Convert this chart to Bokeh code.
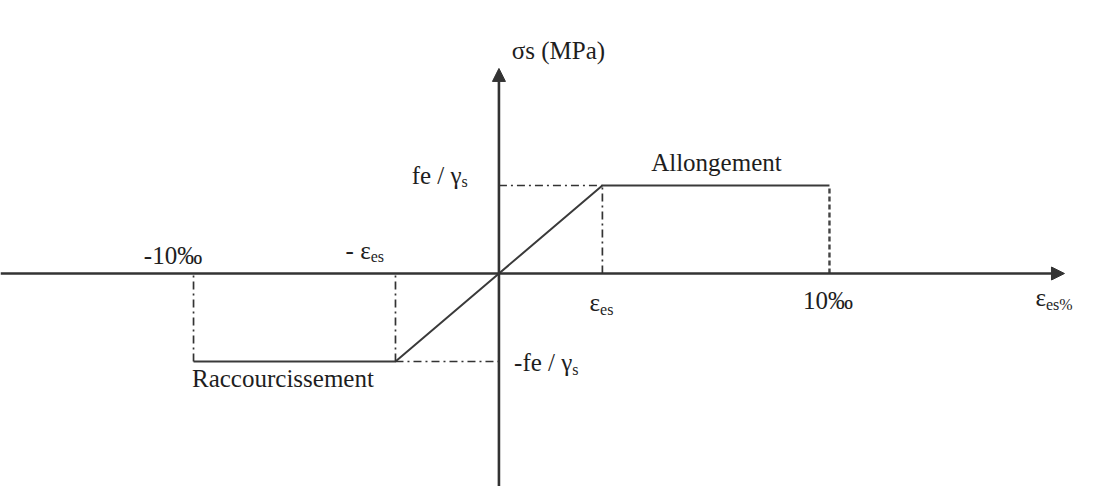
from bokeh.plotting import figure
from bokeh.models import Arrow, NormalHead, ColumnDataSource, Range1d
from bokeh.core.properties import value
from bokeh.embed import file_html
from bokeh.resources import INLINE

# ---- data (strain in ‰, stress normalised by fe/γs) ----
strain = [-9.24, -3.13, 0.0, 3.13, 10.0]
stress = [-1.0, -1.0, 0.0, 1.0, 1.0]

# main labels: text, x, y
lab_text = ["σs (MPa)", "Allongement", "-10‰", "10‰", "Raccourcissement"]
lab_x = [1.80, 6.58, -9.86, 9.955, -6.535]
lab_y = [2.534, 1.261, 0.205, -0.307, -1.193]

# labels with subscripts: main (right-aligned at x), subscript (left-aligned at x)
sub_main = ["fe / γ", "- ε", "ε", "ε", "-fe / γ"]
sub_small = ["s", "es", "es", "es%", "s"]
sub_x = [-1.13, -3.88, 3.06, 16.55, 2.22]
sub_y_main = [1.114, 0.261, -0.33, -0.273, -1.012]
sub_y_small = [1.040, 0.188, -0.405, -0.347, -1.085]

X0, X1 = -15.08, 17.625
Y0, Y1 = -2.42, 3.102

p = figure(width=1081, height=486, output_backend="svg", toolbar_location=None,
           x_range=Range1d(X0, X1), y_range=Range1d(Y0, Y1), min_border=0)
p.axis.visible = False
p.grid.visible = False
p.outline_line_color = None
p.background_fill_color = "white"
p.border_fill_color = "white"

AX = "#333333"
# axes with arrows
p.add_layout(Arrow(end=NormalHead(size=13, fill_color=AX, line_color=AX),
                   x_start=X0, y_start=0, x_end=17.11, y_end=0,
                   line_color=AX, line_width=2.6))
p.add_layout(Arrow(end=NormalHead(size=13, fill_color=AX, line_color=AX),
                   x_start=0, y_start=Y0, x_end=0, y_end=2.33,
                   line_color=AX, line_width=2.6))

# stress-strain curve
p.line(strain, stress, line_color="#3a3a3a", line_width=2)

# guide lines (dash-dot)
dd = "8 4 2 4"
p.segment(x0=[strain[2], strain[1], strain[3], strain[1], strain[0]],
          y0=[stress[3], stress[1], 0, stress[1], stress[0]],
          x1=[strain[3], strain[2], strain[3], strain[1], strain[0]],
          y1=[stress[3], stress[1], stress[3], 0, 0],
          line_color="#333333", line_width=1.7, line_dash=dd)
# dashed at 10‰
p.segment(x0=[strain[4]], y0=[0], x1=[strain[4]], y1=[stress[4]],
          line_color="#444444", line_width=2.4, line_dash="5 3")

FONT = value("Liberation Serif")
src = ColumnDataSource(dict(x=lab_x, y=lab_y, t=lab_text))
p.text(x="x", y="y", text="t", source=src, text_font=FONT, text_font_size="25px",
       text_align="center", text_baseline="middle", text_color="#1e1e1e")

src_m = ColumnDataSource(dict(x=sub_x, y=sub_y_main, t=sub_main))
p.text(x="x", y="y", text="t", source=src_m, text_font=FONT, text_font_size="25px",
       text_align="right", text_baseline="middle", text_color="#1e1e1e")
src_s = ColumnDataSource(dict(x=sub_x, y=sub_y_small, t=sub_small))
p.text(x="x", y="y", text="t", source=src_s, text_font=FONT, text_font_size="16px",
       text_align="left", text_baseline="middle", text_color="#1e1e1e")

open("out.html", "w").write(file_html(p, INLINE))
